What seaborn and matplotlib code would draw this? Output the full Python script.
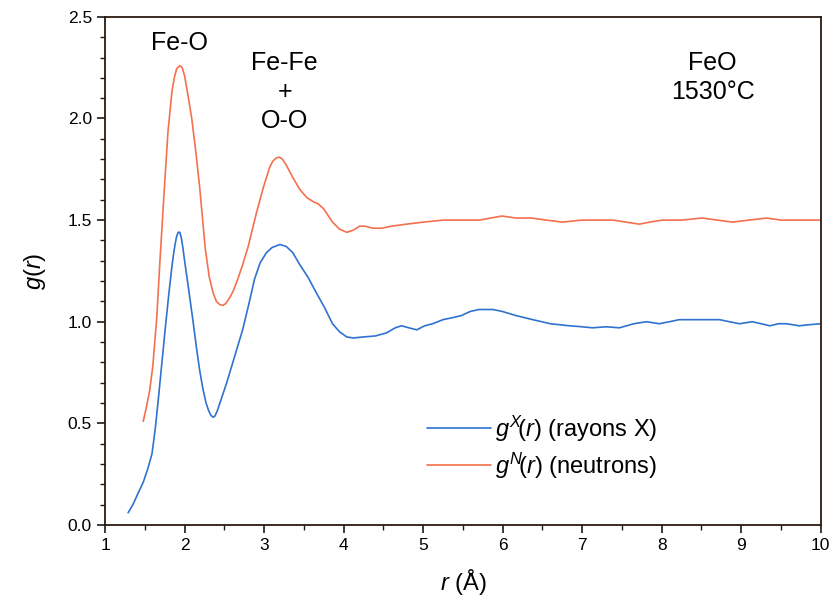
import numpy as np
import pandas as pd
import matplotlib
matplotlib.use("Agg")
import matplotlib.pyplot as plt
from matplotlib.ticker import MultipleLocator
import seaborn as sns

# g(r) rayons X
r_x = [1.29, 1.35, 1.42, 1.48, 1.54, 1.59, 1.63, 1.67, 1.71, 1.75, 1.80, 1.84, 1.86, 1.88,
       1.90, 1.92, 1.94, 1.96, 1.98, 2.00, 2.04, 2.10, 2.15, 2.19, 2.23, 2.27, 2.30, 2.33,
       2.36, 2.38, 2.41, 2.47, 2.53, 2.63, 2.73, 2.81, 2.88, 2.95, 3.03, 3.10, 3.20, 3.28,
       3.36, 3.45, 3.55, 3.66, 3.76, 3.86, 3.95, 4.04, 4.12, 4.25, 4.40, 4.54, 4.65, 4.73,
       4.82, 4.92, 5.02, 5.12, 5.25, 5.37, 5.48, 5.59, 5.70, 5.88, 6.00, 6.17, 6.38, 6.60,
       6.84, 7.00, 7.13, 7.30, 7.47, 7.65, 7.81, 7.97, 8.10, 8.22, 8.50, 8.73, 8.85, 8.98,
       9.14, 9.25, 9.36, 9.47, 9.57, 9.73, 9.85, 10.0]
g_x = [0.06, 0.10, 0.16, 0.21, 0.28, 0.35, 0.47, 0.62, 0.78, 0.94, 1.13, 1.27, 1.33, 1.38,
       1.42, 1.44, 1.44, 1.41, 1.36, 1.30, 1.19, 1.02, 0.87, 0.76, 0.67, 0.60, 0.565, 0.54,
       0.53, 0.535, 0.56, 0.63, 0.70, 0.83, 0.96, 1.09, 1.21, 1.29, 1.34, 1.365, 1.38, 1.37,
       1.34, 1.28, 1.22, 1.14, 1.07, 0.99, 0.95, 0.925, 0.92, 0.925, 0.93, 0.945, 0.97, 0.98,
       0.97, 0.96, 0.98, 0.99, 1.01, 1.02, 1.03, 1.05, 1.06, 1.06, 1.05, 1.03, 1.01, 0.99,
       0.98, 0.975, 0.97, 0.975, 0.97, 0.99, 1.00, 0.99, 1.00, 1.01, 1.01, 1.01, 1.00, 0.99,
       1.00, 0.99, 0.98, 0.99, 0.99, 0.98, 0.985, 0.99]

# g(r) neutrons
r_n = [1.48, 1.52, 1.56, 1.60, 1.65, 1.69, 1.74, 1.79, 1.84, 1.87, 1.90, 1.94, 1.97, 2.00,
       2.04, 2.09, 2.14, 2.19, 2.26, 2.31, 2.36, 2.40, 2.44, 2.48, 2.52, 2.57, 2.61, 2.66,
       2.73, 2.80, 2.90, 2.99, 3.07, 3.11, 3.15, 3.19, 3.23, 3.28, 3.36, 3.45, 3.54, 3.62,
       3.68, 3.75, 3.86, 3.95, 4.04, 4.12, 4.20, 4.27, 4.37, 4.48, 4.60, 4.79, 5.00, 5.25,
       5.50, 5.71, 5.85, 5.99, 6.17, 6.36, 6.55, 6.75, 7.00, 7.20, 7.39, 7.55, 7.72, 7.85,
       8.01, 8.25, 8.51, 8.70, 8.89, 9.10, 9.32, 9.50, 9.69, 10.0]
g_n = [0.51, 0.58, 0.66, 0.78, 1.02, 1.30, 1.62, 1.93, 2.13, 2.20, 2.245, 2.26, 2.25, 2.21,
       2.12, 2.00, 1.84, 1.66, 1.36, 1.22, 1.14, 1.10, 1.085, 1.08, 1.09, 1.12, 1.15, 1.20,
       1.28, 1.37, 1.53, 1.66, 1.76, 1.79, 1.805, 1.81, 1.80, 1.77, 1.71, 1.65, 1.61, 1.59,
       1.58, 1.555, 1.49, 1.455, 1.44, 1.45, 1.47, 1.47, 1.46, 1.46, 1.47, 1.48, 1.49, 1.50,
       1.50, 1.50, 1.51, 1.52, 1.51, 1.51, 1.50, 1.49, 1.50, 1.50, 1.50, 1.49, 1.48, 1.49,
       1.50, 1.50, 1.51, 1.50, 1.49, 1.50, 1.51, 1.50, 1.50, 1.50]

sns.set_style("ticks")
plt.rcParams['font.family'] = ['Liberation Sans', 'DejaVu Sans']
plt.rcParams['mathtext.fontset'] = 'custom'
plt.rcParams['mathtext.rm'] = 'Liberation Sans'
plt.rcParams['mathtext.it'] = 'Liberation Sans:italic'
plt.rcParams['text.color'] = 'black'
plt.rcParams['axes.labelcolor'] = 'black'

df_x = pd.DataFrame({'r': r_x, 'g': g_x})
df_n = pd.DataFrame({'r': r_n, 'g': g_n})

fig = plt.figure(figsize=(8.34, 6.02), dpi=100)
ax = fig.add_axes([0.126, 0.128, 0.858, 0.844])

sns.lineplot(data=df_x, x='r', y='g', ax=ax, color='#2f72cf', lw=1.2,
             label=r'$g^X\!(r)$ (rayons X)', sort=False)
sns.lineplot(data=df_n, x='r', y='g', ax=ax, color='#f4704e', lw=1.2,
             label=r'$g^N\!(r)$ (neutrons)', sort=False)

ax.set_xlim(1, 10)
ax.set_ylim(0, 2.5)
ax.xaxis.set_major_locator(MultipleLocator(1))
ax.xaxis.set_minor_locator(MultipleLocator(0.5))
ax.yaxis.set_major_locator(MultipleLocator(0.5))
ax.yaxis.set_minor_locator(MultipleLocator(0.1))
ax.yaxis.set_major_formatter(matplotlib.ticker.FormatStrFormatter('%.1f'))
ax.tick_params(which='major', direction='out', length=6, width=1.2, labelsize=12.5,
               color='#1a1a1a', labelcolor='black')
ax.tick_params(which='minor', direction='out', length=3.5, width=1.0, color='#1a1a1a')
ax.tick_params(top=False, right=False, which='both')
for s in ax.spines.values():
    s.set_visible(True)
    s.set_linewidth(1.3)
    s.set_color('#2a1a10')

ax.set_xlabel(r'$r$ (Å)', fontsize=17, labelpad=10)
ax.set_ylabel(r'$g(r)$', fontsize=17, labelpad=14)

ax.text(1.93, 2.37, 'Fe-O', fontsize=18, ha='center', va='center')
ax.text(3.26, 2.13, 'Fe-Fe\n+\nO-O', fontsize=18, ha='center', va='center', linespacing=1.25)
ax.text(8.64, 2.20, 'FeO\n1530°C', fontsize=18, ha='center', va='center', linespacing=1.25)

ax.legend(loc='lower left', bbox_to_anchor=(0.42, 0.045), frameon=False, fontsize=17,
          handlelength=2.7, handletextpad=0.2, labelspacing=0.3)

fig.savefig('out.png', dpi=100)
